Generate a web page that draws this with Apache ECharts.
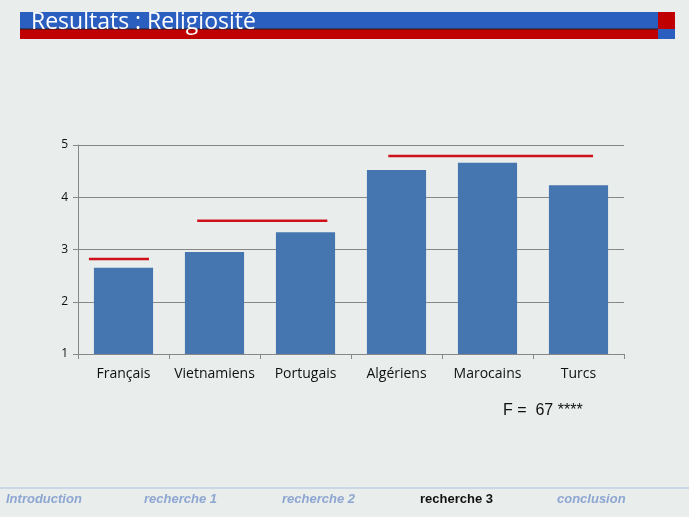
<!DOCTYPE html>
<html><head><meta charset="utf-8">
<script src="https://cdn.jsdelivr.net/npm/echarts@6/dist/echarts.min.js"></script>
<style>html,body{margin:0;padding:0;background:#e9edec}#c{width:689px;height:517px}</style>
</head><body><div id="c"></div>
<script>
const categories = ['Français','Vietnamiens','Portugais','Algériens','Marocains','Turcs'];
const values = [2.65, 2.95, 3.33, 4.52, 4.66, 4.23];
const yTicks = [1, 2, 3, 4, 5];
// homogeneous groups: [xStart, xEnd, level] in category units
const groupLines = [[0.12, 0.78, 2.82], [1.31, 2.74, 3.55], [3.41, 5.66, 4.79]];
const navItems = ['Introduction','recherche 1','recherche 2','recherche 3','conclusion'];
const activeNav = 'recherche 3';
const fText = 'F =  67 ****';

const chart = echarts.init(document.getElementById('c'));
const navX = [6, 144, 282, 420, 557];
const graphics = [
  {type:'rect', shape:{x:20,y:12,width:638,height:17}, style:{fill:'#2a5fc0'}},
  {type:'rect', shape:{x:20,y:29,width:638,height:10}, style:{fill:'#c00000'}},
  {type:'line', shape:{x1:20,y1:29,x2:658,y2:29}, style:{stroke:'#202020',lineWidth:1}},
  {type:'rect', shape:{x:658,y:12,width:17,height:17}, style:{fill:'#c00000'}},
  {type:'rect', shape:{x:658,y:29,width:17,height:10}, style:{fill:'#2a5fc0'}},
  {type:'text', x:31, y:22, style:{text:'Resultats : Religiosité', fill:'#ffffff', verticalAlign:'middle', font:'23px "Open Sans", sans-serif'}},
  {type:'text', x:503, y:403, style:{text:fText, fill:'#111', font:'16px "Liberation Sans", Arial, sans-serif'}},
  {type:'line', shape:{x1:0,y1:488,x2:689,y2:488}, style:{stroke:'#a9c1e2',lineWidth:1}}
];
navItems.forEach((t,i)=>{
  const a = t===activeNav;
  graphics.push({type:'text', x:navX[i], y:493, style:{text:t, fill:a?'#111':'#8ea6d2',
    font:(a?'bold ':'italic bold ')+'13px "Liberation Sans", Arial, sans-serif'}});
});
chart.setOption({
  backgroundColor:'#e9edec',
  animation:false,
  grid:{left:78,right:65,top:145,bottom:163},
  xAxis:[{type:'category', data:categories,
    axisLine:{lineStyle:{color:'#888'}}, axisTick:{show:true, alignWithLabel:false, lineStyle:{color:'#888'}},
    axisLabel:{color:'#111', fontSize:14, fontFamily:'"Open Sans", sans-serif', margin:13, interval:0}},
    {type:'value', min:0, max:6, show:false}],
  yAxis:{type:'value', min:1, max:5, interval:1,
    axisLine:{show:true, lineStyle:{color:'#888'}}, axisTick:{show:true, lineStyle:{color:'#888'}},
    splitLine:{lineStyle:{color:'#888'}},
    axisLabel:{color:'#111', fontSize:12, fontFamily:'"Open Sans", sans-serif', margin:10,
      formatter:v=>yTicks.includes(v)?String(v):''}},
  series:[{type:'bar', data:values, barWidth:'65%', itemStyle:{color:'#4676b0'}}].concat(
    groupLines.map(g=>({type:'line', xAxisIndex:1, data:[[g[0],g[2]],[g[1],g[2]]], symbol:'none',
      lineStyle:{color:'#d0101a', width:2.5}}))),
  graphic:graphics
});
</script></body></html>
